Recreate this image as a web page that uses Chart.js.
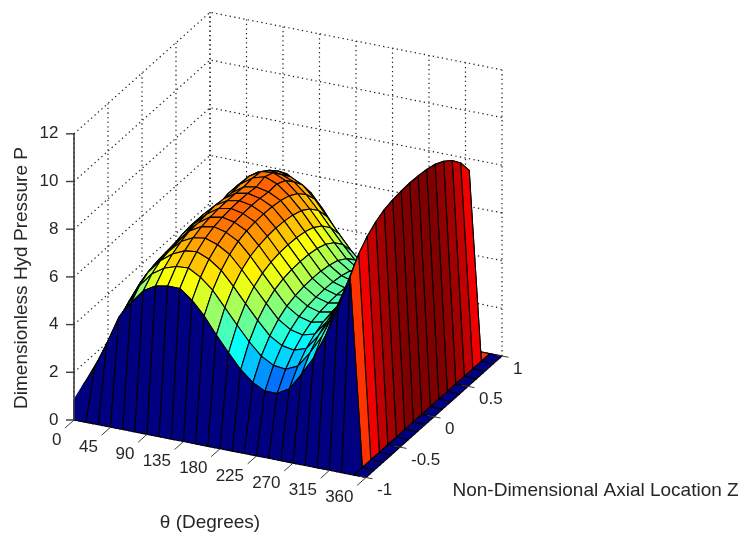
<!DOCTYPE html>
<html><head><meta charset="utf-8">
<style>html,body{margin:0;padding:0;background:#fff}canvas{display:block}</style>
<script src="https://cdn.jsdelivr.net/npm/chart.js@4"></script>
</head><body>
<canvas id="c" width="743" height="536"></canvas>
<script>
const thetaValues=[0,15,30,45,60,75,90,105,120,135,150,165,180,195,210,225,240,255,270,285,300,315,330,345,360];
const zValues=[-1,-0.875,-0.75,-0.625,-0.5,-0.375,-0.25,-0.125,0,0.125,0.25,0.375,0.5,0.625,0.75,0.875,1];
const thetaTicks=[0,45,90,135,180,225,270,315,360];
const zTicks=[-1,-0.5,0,0.5,1];
const pressureTicks=[0,2,4,6,8,10,12];
const rowEdge=[0,0,0,0,0,0,0,0,0,0,0,0,0,0,0,0,0,0,0,0,0,0,0,0,0];
const row1=[1.1,2.0,3.1,4.3,5.0,5.6,5.9,6.0,6.0,5.6,5.05,4.35,3.7,3.1,2.65,2.4,2.4,2.7,3.4,4.2,5.25,6.5,7.9,0,0];
const row2=[1.36,2.3,3.4,4.45,5.4,5.99,6.33,6.5,6.54,6.25,5.81,5.18,4.55,3.95,3.45,3.16,3.1,3.33,3.99,4.79,5.86,7.13,8.53,0,0];
const row3=[1.6,2.7,3.8,4.7,5.65,6.22,6.61,6.84,6.9,6.69,6.32,5.75,5.13,4.53,3.98,3.67,3.58,3.75,4.39,5.19,6.27,7.55,8.95,0,0];
const row4=[1.95,3.15,4.1,5.0,5.7,6.3,6.81,7.07,7.15,6.98,6.67,6.13,5.52,4.92,4.35,4.02,3.9,4.04,4.66,5.46,6.55,7.84,9.24,0,0];
const row5=[2.4,3.46,4.4,5.15,5.8,6.35,6.94,7.22,7.31,7.18,6.9,6.38,5.77,5.17,4.59,4.25,4.11,4.23,4.84,5.64,6.74,8.03,9.43,0,0];
const row6=[2.7,3.7,4.55,5.2,5.85,6.4,6.95,7.3,7.39,7.28,7.02,6.51,5.91,5.31,4.71,4.37,4.22,4.33,4.94,5.74,6.83,8.13,9.53,0,0];
const row7=[2.9,3.95,4.65,5.25,5.95,6.5,7.0,7.34,7.44,7.33,7.08,6.58,5.98,5.38,4.78,4.43,4.28,4.38,4.98,5.78,6.88,8.18,9.58,0,0];
const row8=[3.1,4.05,4.7,5.3,6.0,6.55,7.05,7.35,7.45,7.35,7.1,6.6,6.0,5.4,4.8,4.45,4.3,4.4,5.0,5.8,6.9,8.2,9.6,0,0];
const row11=[2.4,3.46,4.4,5.15,5.8,6.5,7.0,7.35,7.5,7.3,6.9,6.38,5.77,5.17,4.59,4.25,4.11,4.23,4.84,5.64,6.74,8.03,9.43,0,0];
const row12=[1.95,3.15,4.1,5.0,5.85,6.5,7.0,7.3,7.35,7.12,6.67,6.13,5.52,4.92,4.35,4.02,3.9,4.04,4.66,5.46,6.55,7.84,9.24,0,0];
const row13=[1.6,2.7,3.8,4.7,5.75,6.4,6.85,7.03,6.95,6.75,6.32,5.75,5.13,4.53,3.98,3.67,3.58,3.75,4.39,5.19,6.27,7.55,8.95,0,0];
const row14=[1.36,2.3,3.4,4.45,5.55,6.2,6.55,6.68,6.55,6.3,5.81,5.18,4.55,3.95,3.45,3.16,3.1,3.33,3.99,4.79,5.86,7.13,8.53,0,0];
const row15=[1.1,2.0,3.1,4.3,5.2,5.85,6.2,6.25,5.95,5.65,5.05,4.35,3.7,3.1,2.65,2.4,2.4,2.7,3.4,4.2,5.25,6.5,7.9,0,0];
const pressure=[rowEdge,row1,row2,row3,row4,row5,row6,row7,row8,row7,row6,row11,row12,row13,row14,row15,rowEdge];
const cornerHeight=[0.84];
const colorMax=9.6;

// Orthographic camera of the 3-D view: maps (theta, Z, P) onto the chart's flat plane.
const cam={ox:74,oy:420,tx:292/360,ty:57.5/360,zx:68,zy:-60.75,py:-23.85};
function project(t,z,p){return{x:cam.ox+cam.tx*t+cam.zx*(z+1),y:cam.oy+cam.ty*t+cam.zy*(z+1)+cam.py*p};}

function jet(v){
  const c=x=>Math.round(255*Math.max(0,Math.min(1,x)));
  const q=Math.floor(Math.max(0,Math.min(1,v))*63.999)/63;
  return `rgb(${c(1.5-Math.abs(4*q-3))},${c(1.5-Math.abs(4*q-2))},${c(1.5-Math.abs(4*q-1))})`;
}
function lineSet(points,color,width,dash){
  return{data:points,showLine:true,fill:false,borderColor:color,borderWidth:width,borderDash:dash||[],pointRadius:0,tension:0};
}
const paint=[];
const DOT=[1.3,3.3],DOTC='#1c1c1c';
const pMax=pressureTicks[pressureTicks.length-1];
// back wall and side wall grid
thetaTicks.forEach(t=>paint.push(lineSet([project(t,1,0),project(t,1,pMax)],DOTC,1.2,DOT)));
zTicks.forEach(z=>paint.push(lineSet([project(0,z,0),project(0,z,pMax)],DOTC,1.2,DOT)));
pressureTicks.forEach(p=>{
  paint.push(lineSet([project(0,-1,p),project(0,1,p),project(360,1,p)],DOTC,1.2,DOT));
});
// floor grid
thetaTicks.forEach(t=>paint.push(lineSet([project(t,-1,0),project(t,1,0)],DOTC,1.2,DOT)));
zTicks.forEach(z=>paint.push(lineSet([project(0,z,0),project(360,z,0)],DOTC,1.2,DOT)));
// surface: far cells first
for(let i=zValues.length-2;i>=0;i--){
  for(let j=0;j<thetaValues.length-1;j++){
    const a=project(thetaValues[j],zValues[i],pressure[i][j]),
          b=project(thetaValues[j+1],zValues[i],pressure[i][j+1]),
          c=project(thetaValues[j+1],zValues[i+1],pressure[i+1][j+1]),
          d=project(thetaValues[j],zValues[i+1],pressure[i+1][j]);
    paint.push({data:[a,b,c,d,a],showLine:true,fill:'shape',backgroundColor:jet(pressure[i][j]/colorMax),
      borderColor:'#000',borderWidth:1.1,pointRadius:0,tension:0,borderJoinStyle:'round'});
  }
}
// small filled corner at theta = 0 on the front edge
{
  const o=project(thetaValues[0],zValues[0],0),k=project(thetaValues[0],zValues[0],cornerHeight[0]),d=project(thetaValues[0],zValues[1],pressure[1][0]);
  paint.push({data:[o,k,d,o],showLine:true,fill:'shape',backgroundColor:jet(0),borderColor:jet(0),borderWidth:1.3,pointRadius:0,tension:0});
}
// solid axes and ticks
const AX='#3c3c3c';
paint.push(lineSet([project(0,-1,0),project(0,-1,pMax)],AX,1.6));
pressureTicks.forEach(p=>{const o=project(0,-1,p);paint.push(lineSet([o,{x:o.x-8,y:o.y}],AX,1.4));});
thetaTicks.forEach(t=>{const o=project(t,-1,0),e=project(t,-1.13,0);paint.push(lineSet([o,e],AX,1));});
zTicks.forEach(z=>{const o=project(352,z,0),e=project(368,z,0);paint.push(lineSet([o,e],AX,1));});

const textPlugin={id:'labels',afterDraw(chart){
  const g=chart.ctx,sx=chart.scales.x,sy=chart.scales.y;
  const px=p=>({x:sx.getPixelForValue(p.x),y:sy.getPixelForValue(p.y)});
  g.save();
  g.fillStyle='#262626';
  g.font='17px "Liberation Sans"';
  g.textBaseline='middle';
  g.textAlign='right';
  pressureTicks.forEach(p=>{const o=px(project(0,-1,p));g.fillText(String(p),o.x-15.5,o.y);});
  thetaTicks.forEach(t=>{const o=px(project(t,-1,0));g.fillText(String(t),o.x-12.5,o.y+20);});
  g.textAlign='left';
  zTicks.forEach(z=>{const o=px(project(360,z,0));g.fillText(String(z),o.x+11,o.y+13);});
  g.font='19px "Liberation Sans"';
  g.fillText('Non-Dimensional Axial Location Z',452.5,491);
  g.textAlign='center';
  g.fillText('θ (Degrees)',210,523);
  g.translate(21.5,278);g.rotate(-Math.PI/2);
  g.fillText('Dimensionless Hyd Pressure P',0,0);
  g.restore();
}};
new Chart(document.getElementById('c'),{
  type:'scatter',
  data:{datasets:paint.slice().reverse()},
  plugins:[textPlugin],
  options:{
    responsive:false,animation:false,
    layout:{padding:0},
    plugins:{legend:{display:false},tooltip:{enabled:false},title:{display:false}},
    scales:{
      x:{type:'linear',min:0,max:743,display:false},
      y:{type:'linear',min:0,max:536,reverse:true,display:false}
    }
  }
});
</script>
</body></html>
